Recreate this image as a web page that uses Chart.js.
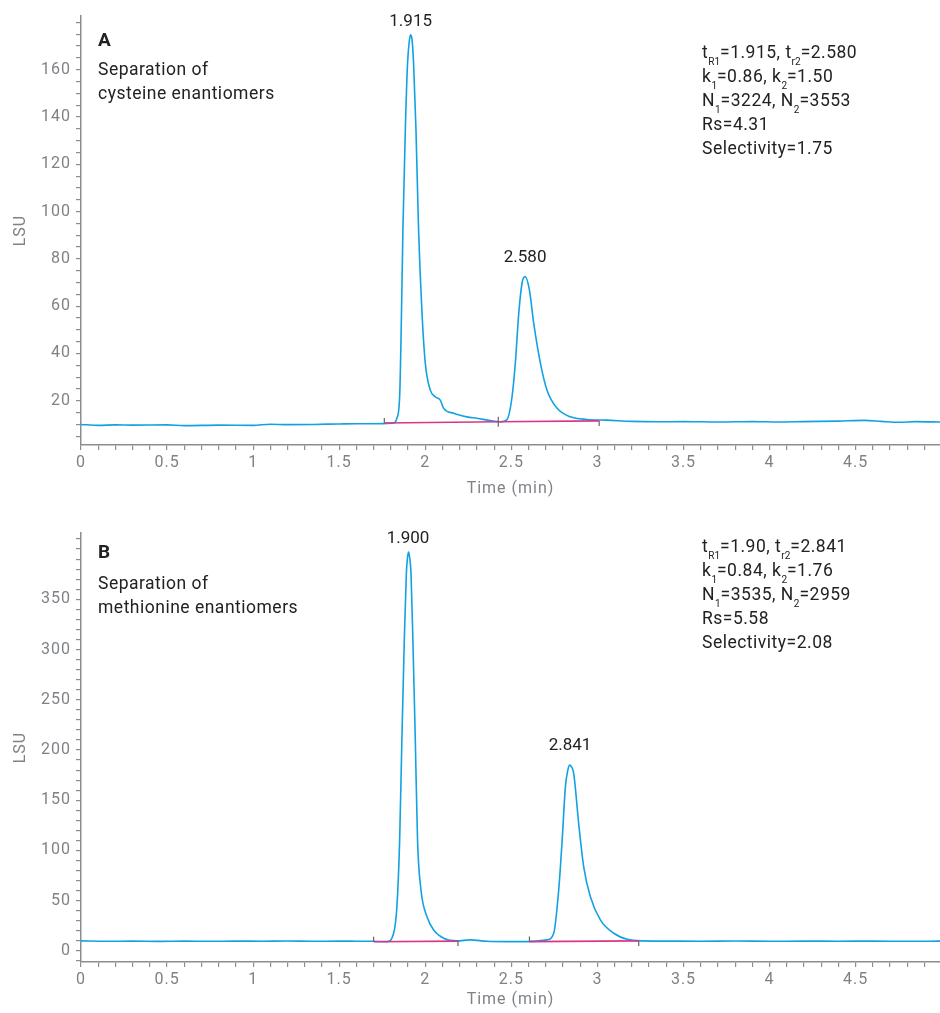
<!DOCTYPE html>
<html>
<head>
<meta charset="utf-8">
<script src="https://cdn.jsdelivr.net/npm/chart.js@4.4.1/dist/chart.umd.min.js"></script>
<style>
  body{margin:0;background:#fff;font-family:Roboto,"Noto Sans",sans-serif;}
  #wrap{position:relative;width:940px;height:1013px;overflow:hidden;}
  canvas{position:absolute;left:0;}
  .note{position:absolute;color:#222;font-size:17.5px;letter-spacing:0.5px;line-height:24px;white-space:nowrap;z-index:2;}
  .note sub{font-size:10px;letter-spacing:0;vertical-align:-7px;line-height:0;}
  .tag{font-weight:700;font-size:19px;}
</style>
</head>
<body>
<div id="wrap">
  <canvas id="chartA" width="940" height="506" style="top:0"></canvas>
  <canvas id="chartB" width="940" height="496" style="top:517px"></canvas>

  <div class="note tag" style="left:98px;top:28px">A</div>
  <div class="note" style="left:98px;top:57px">Separation of<br>cysteine enantiomers</div>
  <div class="note" style="left:702px;top:40px">t<sub>R1</sub>=1.915, t<sub>r2</sub>=2.580<br>k<sub>1</sub>=0.86, k<sub>2</sub>=1.50<br>N<sub>1</sub>=3224, N<sub>2</sub>=3553<br>Rs=4.31<br>Selectivity=1.75</div>

  <div class="note tag" style="left:98px;top:540px">B</div>
  <div class="note" style="left:98px;top:571px">Separation of<br>methionine enantiomers</div>
  <div class="note" style="left:702px;top:534px">t<sub>R1</sub>=1.90, t<sub>r2</sub>=2.841<br>k<sub>1</sub>=0.84, k<sub>2</sub>=1.76<br>N<sub>1</sub>=3535, N<sub>2</sub>=2959<br>Rs=5.58<br>Selectivity=2.08</div>
</div>

<script>
// --- A: cysteine ---
const timeA = [0, 0.1, 0.2, 0.3, 0.5, 0.6, 0.8, 1.0, 1.1, 1.2, 1.35, 1.5, 1.6, 1.7, 1.78, 1.816, 1.835, 1.851, 1.86, 1.87, 1.884, 1.897, 1.907, 1.915, 1.924, 1.932, 1.946, 1.961, 1.981, 2.0, 2.029, 2.058, 2.087, 2.107, 2.165, 2.242, 2.3, 2.378, 2.436, 2.475, 2.504, 2.523, 2.543, 2.562, 2.58, 2.605, 2.63, 2.669, 2.707, 2.766, 2.843, 2.94, 3.056, 3.2, 3.35, 3.5, 3.7, 3.9, 4.05, 4.2, 4.4, 4.55, 4.65, 4.75, 4.85, 4.99];
const lsuA  = [10.0, 9.6, 9.8, 9.7, 9.8, 9.5, 9.7, 9.6, 10.1, 9.9, 10.0, 10.2, 10.3, 10.3, 10.4, 10.6, 12.6, 21.7, 49.9, 92.2, 134.5, 162.7, 172, 174.7, 172, 162.7, 134.5, 92.2, 57, 35.9, 24.5, 21.7, 20.3, 16.8, 14.7, 13.2, 12.6, 11.6, 11.1, 12.1, 21.7, 35.9, 57, 69.7, 72.5, 66.8, 52.7, 35.8, 24.5, 16.8, 13.2, 12.1, 11.8, 11.3, 11.1, 11.2, 11.0, 11.2, 11.0, 11.2, 11.4, 11.7, 11.3, 10.9, 11.2, 11.0];
const peakTA = [1.915, 2.580];
const peakYA = [174.7, 72.5];
const baseStartTA = [1.762, 2.424];
const baseStartYA = [10.6, 11.1];
const baseEndTA   = [2.424, 3.010];
const baseEndYA   = [11.1, 11.5];

// --- B: methionine ---
const timeB = [0, 0.15, 0.3, 0.45, 0.6, 0.75, 0.9, 1.05, 1.2, 1.35, 1.5, 1.6, 1.7, 1.777, 1.816, 1.835, 1.851, 1.864, 1.878, 1.89, 1.897, 1.903, 1.909, 1.917, 1.928, 1.942, 1.955, 1.975, 2.01, 2.048, 2.107, 2.184, 2.262, 2.358, 2.474, 2.591, 2.707, 2.746, 2.775, 2.795, 2.814, 2.828, 2.839, 2.85, 2.862, 2.891, 2.92, 2.959, 3.017, 3.095, 3.173, 3.269, 3.4, 3.6, 3.8, 4.0, 4.2, 4.4, 4.6, 4.8, 4.99];
const lsuB  = [10.0, 9.6, 9.8, 9.5, 9.8, 9.6, 9.8, 9.7, 9.9, 9.6, 9.8, 9.7, 9.6, 9.3, 17.6, 44, 110, 210, 309, 376, 392, 397, 392, 376, 309, 210, 110, 60.7, 34, 21, 12.6, 10, 11, 9.6, 9.3, 9.3, 11, 17.6, 60.7, 110, 163.5, 180, 185, 183, 177, 127, 84, 54, 31, 17.6, 11.6, 10, 9.8, 9.7, 9.9, 9.6, 9.8, 9.7, 9.8, 9.6, 9.8];
const peakTB = [1.900, 2.841];
const peakYB = [397, 185];
const baseStartTB = [1.700, 2.605];
const baseStartYB = [9.2, 9.3];
const baseEndTB   = [2.190, 3.240];
const baseEndYB   = [9.8, 10.0];

// ticks
const xMajor = [0, 0.5, 1, 1.5, 2, 2.5, 3, 3.5, 4, 4.5];
const yMajorA = [20, 40, 60, 80, 100, 120, 140, 160];
const yMajorB = [0, 50, 100, 150, 200, 250, 300, 350];

const axisCol = "#8a8d91";
const tickCol = "#7e8287";
const lineCol = "#12a2e2";
const baseCol = "#d8358b";

function steps(from, to, step){ // minor tick positions
  const out = [];
  const n = Math.round((to - from) / step);
  for(let i=0;i<=n;i++) out.push(Math.round((from + i*step)*100)/100);
  return out;
}

// wider tracking on axis text, like the original
const spacingPlugin = {
  id: "spacing",
  beforeDraw(chart){ chart.ctx.letterSpacing = "1px"; }
};

const peakPlugin = {
  id: "peaks",
  afterDatasetsDraw(chart, args, o){
    const {ctx, chartArea} = chart;
    const xs = chart.scales.x, ys = chart.scales.y;
    ctx.save();
    ctx.letterSpacing = "0px";
    // integration marks
    ctx.strokeStyle = "#666";
    ctx.lineWidth = 1.2;
    o.bs.forEach((t,i)=>{
      const x1 = xs.getPixelForValue(t), y1 = ys.getPixelForValue(o.bsy[i]);
      const x2 = xs.getPixelForValue(o.be[i]), y2 = ys.getPixelForValue(o.bey[i]);
      ctx.beginPath();
      ctx.moveTo(x1, y1); ctx.lineTo(x1, y1-5);
      ctx.moveTo(x2, y2); ctx.lineTo(x2, y2+5);
      ctx.stroke();
    });
    // peak labels
    ctx.fillStyle = "#222";
    ctx.font = "17px Roboto";
    ctx.textAlign = "center";
    ctx.textBaseline = "middle";
    o.pt.forEach((t,i)=>{
      const px = xs.getPixelForValue(t);
      const py = Math.max(ys.getPixelForValue(o.py[i]) - 19, chartArea.top + 6);
      ctx.fillText(t.toFixed(3), px, py);
    });
    ctx.restore();
  }
};

function makeChart(id, time, lsu, bs, bsy, be, bey, pt, py, y, xTitlePad){
  const segs = bs.map((t,i)=>({
    data: [{x:t, y:bsy[i]}, {x:be[i], y:bey[i]}],
    borderColor: baseCol, borderWidth: 1.6, pointRadius: 0
  }));
  const canvas = document.getElementById(id);
  return new Chart(canvas.getContext("2d"), {
    type: "line",
    data: { datasets: [
      ...segs,
      { data: time.map((t,i)=>({x:t, y:lsu[i]})), borderColor: lineCol, borderWidth: 1.6,
        pointRadius: 0, cubicInterpolationMode: "monotone", fill: false }
    ]},
    options: {
      responsive: false, animation: false,
      layout: { padding: { top: 16, right: 0, bottom: 0, left: 0 } },
      plugins: { legend: {display:false}, tooltip: {enabled:false},
        peaks: { bs, bsy, be, bey, pt, py } },
      scales: {
        x: {
          type: "linear", min: 0, max: 4.99,
          border: { color: axisCol, width: 1.5 },
          grid: { drawOnChartArea: false, tickLength: 5, color: axisCol, lineWidth: 1.2 },
          afterBuildTicks: s => { s.ticks = steps(0, 4.9, 0.1).map(v=>({value:v})); },
          ticks: { autoSkip: false, maxRotation: 0, color: tickCol, padding: 3,
            font: { family: "Roboto", size: 16 },
            callback: v => xMajor.includes(v) ? String(v) : "" },
          title: { display: true, text: "Time (min)", color: tickCol,
            font: { family: "Roboto", size: 16 }, padding: { top: 0, bottom: xTitlePad } },
          afterFit: s => { s.height = y.xh; }
        },
        y: {
          type: "linear", min: y.min, max: y.max,
          border: { color: axisCol, width: 1.5 },
          grid: { drawOnChartArea: false, tickLength: 5, color: axisCol, lineWidth: 1.2 },
          afterBuildTicks: s => { s.ticks = steps(y.t0, y.t1, y.step).map(v=>({value:v})); },
          ticks: { autoSkip: false, color: tickCol, padding: 5,
            font: { family: "Roboto", size: 16 },
            callback: v => y.major.includes(v) ? String(v) : "" },
          title: { display: true, text: "LSU", color: tickCol,
            font: { family: "Roboto", size: 16 }, padding: { top: 11, bottom: 0 } },
          afterFit: s => { s.width = 81; }
        }
      }
    },
    plugins: [spacingPlugin, peakPlugin]
  });
}

makeChart("chartA", timeA, lsuA, baseStartTA, baseStartYA, baseEndTA, baseEndYA, peakTA, peakYA,
  { min: 1.3, max: 182.7, t0: 5, t1: 180, step: 5, major: yMajorA, xh: 61 }, 7);
makeChart("chartB", timeB, lsuB, baseStartTB, baseStartYB, baseEndTB, baseEndYB, peakTB, peakYB,
  { min: -11, max: 416, t0: -10, t1: 410, step: 10, major: yMajorB, xh: 51 }, 3);
</script>
</body>
</html>
